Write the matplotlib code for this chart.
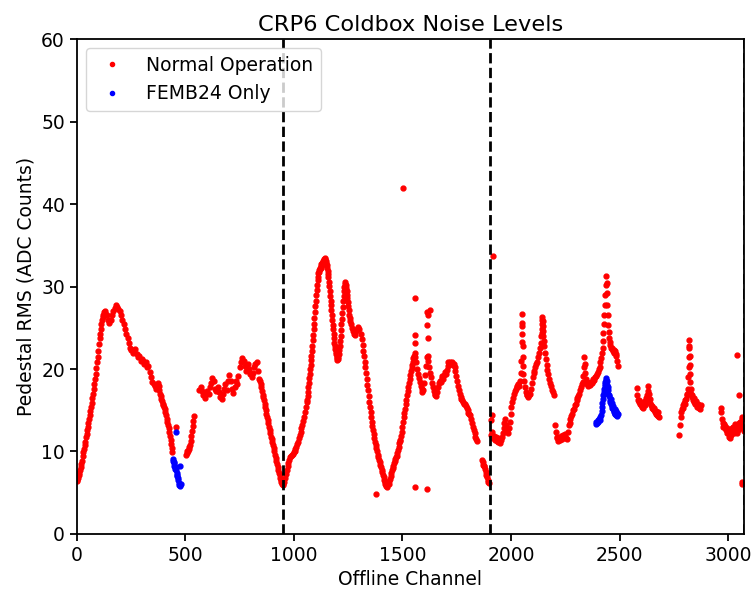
import numpy as np
import matplotlib
matplotlib.use("Agg")
import matplotlib.pyplot as plt

plt.rcParams['font.family'] = ['DejaVu Sans']
plt.rcParams['font.size'] = 13.5

# ---------------- data ----------------
# Normal operation: contiguous runs of channels, (start channel, channel step, RMS values)
seg_start = [0, 138, 381, 504, 565, 844, 955, 1061, 1262, 1320, 1560, 1866,
             1906, 2048, 2060, 2141, 2152, 2202, 2334, 2348, 2422, 2452,
             2579, 2776, 2817, 2830, 2966]
seg_step = [3, 6, 3, 3, 6, 3, 4, 2, 5, 3, 4, 3,
            4, 1, 4, 1, 4, 4, 2, 4, 2, 3,
            3, 3, 1, 3, 3]
seg_values = [
    [6.4, 6.6, 6.8, 7.1, 7.4, 7.7, 8.1, 8.5, 8.9, 9.4, 9.9, 10.3, 10.8, 11.2, 11.7,
     12.1, 12.6, 13.0, 13.5, 13.9, 14.4, 14.9, 15.4, 15.9, 16.5, 17.0, 17.6, 18.2,
     18.8, 19.4, 20.1, 20.8, 21.5, 22.2, 23.0, 23.7, 24.3, 24.9, 25.4, 25.9, 26.3,
     26.6, 26.9, 27.0, 26.8],
    [26.5, 26.0, 25.6, 26.0, 26.6, 27.0, 27.4, 27.7, 27.5, 27.3, 27.0, 26.6, 26.0,
     25.4, 24.9, 24.3, 23.8, 23.2, 22.6, 22.3, 22.0, 22.3, 22.4, 21.8, 21.5, 21.6,
     21.0, 21.2, 21.0, 20.6, 20.8, 20.3, 20.4, 19.6, 19.0, 18.4, 18.2, 18.0, 17.6,
     18.3, 18.0],
    [17.4, 17.0, 16.7, 16.4, 16.1, 15.8, 15.6, 15.4, 15.1, 14.8, 14.4, 14.0, 13.6,
     13.2, 12.8, 12.4, 11.9, 11.4, 10.9, 10.4, 9.9],
    [9.6, 9.8, 10.0, 10.1, 10.3, 10.5, 10.8, 11.3, 11.9, 12.5, 13.1, 13.7, 14.3],
    [17.4, 17.8, 17.3, 16.8, 16.5, 17.0, 17.3, 17.0, 17.8, 18.3, 18.9, 18.5, 17.6,
     17.3, 17.8, 17.2, 16.6, 16.4, 17.0, 17.6, 18.2, 17.5, 18.6, 19.3, 18.5, 17.6,
     17.1, 17.8, 18.5, 18.2, 19.2, 20.2, 20.8, 21.3, 21.0, 20.4, 19.8, 20.6, 20.0,
     19.4, 19.0, 19.5, 20.2, 20.6, 20.8, 19.8, 18.8],
    [18.6, 18.2, 17.8, 17.3, 16.9, 16.6, 16.2, 15.8, 15.4, 15.0, 14.6, 14.2, 13.8,
     13.4, 13.0, 12.6, 12.2, 11.8, 11.5, 11.1, 10.8, 10.4, 10.0, 9.6, 9.2, 8.8, 8.5,
     8.1, 7.7, 7.4, 7.1, 6.8, 6.5, 6.3, 6.1, 5.9, 6.0],
    [6.3, 6.8, 7.3, 7.8, 8.2, 8.6, 9.0, 9.3, 9.5, 9.6, 9.7, 9.9, 10.1, 10.3, 10.6,
     10.9, 11.2, 11.6, 12.0, 12.4, 12.8, 13.2, 13.7, 14.2, 14.8, 15.4, 16.0],
    [16.2, 16.7, 17.2, 17.8, 18.3, 18.9, 19.4, 20.0, 20.5, 21.1, 21.6, 22.2, 22.8,
     23.5, 24.1, 24.8, 25.5, 26.2, 26.9, 27.6, 28.3, 29.0, 29.6, 30.2, 30.8, 31.2,
     31.6, 31.8, 32.0, 32.1, 32.3, 32.2, 32.5, 32.7, 32.6, 32.9, 33.0, 33.1, 33.2,
     33.0, 33.3, 33.4, 33.3, 33.1, 32.9, 32.6, 32.3, 31.9, 31.5, 31.1, 30.6, 30.1,
     29.5, 28.9, 28.3, 27.7, 27.1, 26.5, 25.9, 25.3,
     24.8, 24.2, 23.7, 23.2, 22.8, 22.4, 22.1, 21.8, 21.5, 21.3, 21.1, 21.2, 21.4,
     21.8, 22.3, 22.8, 23.4, 24.0, 24.7, 25.4, 26.1, 26.8, 27.5, 28.2, 28.8, 29.4,
     29.9, 30.3, 30.5, 30.2, 29.8, 29.4, 29.0, 28.6, 28.1, 27.6, 27.1, 26.6, 26.2,
     25.8],
    [25.4, 25.0, 24.6, 24.3, 24.1, 24.6, 24.9, 25.1, 24.8, 24.2, 23.6, 22.9],
    [22.2, 21.6, 20.9, 20.2, 19.5, 18.8, 18.1, 17.4, 16.7, 16.0, 15.4, 14.8, 14.2,
     13.6, 13.1, 12.6, 12.1, 11.6, 11.2, 10.8, 10.4, 10.0, 9.6, 9.3, 9.0, 8.7, 8.4,
     8.1, 7.8, 7.5, 7.2, 6.9, 6.6, 6.3, 6.0, 5.8, 5.7, 5.9, 6.2, 6.0, 6.4, 6.7, 7.0,
     7.4, 7.7, 8.0, 8.3, 8.6, 8.8, 9.1, 9.3, 9.5, 9.8, 10.2, 10.6, 11.0, 11.3, 11.4,
     11.9, 12.4, 13.0, 13.6, 14.2, 14.7, 15.2, 15.7, 16.3, 16.8, 17.3, 17.8, 18.3,
     18.8, 19.3, 19.7, 20.1, 20.5, 20.9, 21.3, 21.6, 21.9],
    [21.5, 20.8, 20.0, 19.4, 18.9, 18.4, 18.0, 17.6, 17.2, 17.4, 18.3, 19.3, 20.4,
     21.4, 21.6, 21.0, 20.2, 19.5, 19.0, 18.3, 17.8, 17.3, 17.0, 16.8, 16.7, 17.2,
     17.8, 18.3, 18.6, 18.4, 18.9, 19.2, 18.8, 19.3, 19.6, 19.4, 19.9, 20.4, 20.8,
     20.7, 20.9, 20.6, 20.8, 20.5, 20.6, 20.2, 19.8, 19.2, 18.6, 18.0, 17.5, 17.0,
     16.6, 16.4, 16.2, 16.0, 15.8, 15.7, 15.5, 15.3, 15.0, 14.7, 14.6, 14.4, 14.0,
     13.5, 13.0, 12.6, 12.2, 11.8, 11.5, 11.3],
    [9.0, 8.7, 8.4, 8.2, 8.3, 7.9, 7.5, 7.2, 6.9, 6.6, 6.3, 6.2],
    [12.0, 13.8, 12.4, 11.6, 11.9, 11.4, 11.8, 11.3, 11.6, 11.2, 11.5, 11.0, 11.4,
     11.8, 12.2, 12.8, 13.5, 14.0, 13.2, 12.6, 12.3, 12.8, 13.6, 14.5, 15.4, 16.0,
     16.5, 17.0, 17.3, 17.6, 17.8, 18.0, 18.2, 18.0, 18.6, 19.5],
    [21.0, 23.3, 25.6, 26.7, 25.2, 24.2, 22.8, 21.5, 20.4, 19.4],
    [18.6, 17.8, 17.2, 16.9, 16.8, 16.6, 16.8, 17.0, 17.6, 18.3, 19.0, 19.5, 19.8,
     20.2, 20.6, 20.9, 21.4, 21.9, 22.5, 23.2, 24.0],
    [24.4, 24.9, 25.4, 25.9, 26.3, 25.8, 25.2, 24.6, 24.0, 23.4],
    [22.8, 22.0, 21.2, 20.5, 19.9, 19.4, 18.8, 18.3, 17.9, 17.5, 17.2, 16.8],
    [13.2, 12.4, 11.8, 11.6, 11.3, 11.6, 11.4, 11.9, 11.5, 12.0, 11.7, 11.8, 12.1,
     11.6, 11.5, 12.4, 13.2, 13.5, 13.9, 14.3, 14.6, 15.0, 15.1, 15.6, 15.8, 16.2,
     16.5, 16.7, 17.0, 17.4, 17.8, 18.2, 18.4],
    [19.2, 20.2, 21.5, 20.6, 19.5, 18.8],
    [18.4, 18.2, 18.0, 18.3, 18.1, 18.4, 18.3, 18.6, 18.8, 18.7, 19.0, 19.2, 19.4,
     19.6, 20.0, 20.3, 20.8, 21.3, 22.0],
    [22.6, 23.4, 24.4, 25.4, 26.6, 27.8, 29.0, 30.2, 31.3, 30.4, 29.2, 27.8, 26.5,
     25.3, 24.5],
    [23.8, 23.3, 22.9, 22.6, 22.4, 22.5, 22.2, 22.3, 22.0, 22.2, 21.8, 21.6, 21.0,
     20.4],
    [17.7, 16.8, 16.2, 16.0, 16.3, 15.8, 15.6, 16.0, 15.4, 15.7, 15.3, 15.8, 16.1,
     15.6, 16.2, 16.5, 16.8, 17.3, 17.9, 17.0, 16.4, 15.9, 15.6, 15.3, 15.5, 15.1,
     15.0, 15.3, 14.8, 14.9, 14.6, 14.4, 14.8, 14.3, 14.2],
    [12.0, 13.2, 14.2, 14.8, 15.2, 15.6, 15.3, 15.9, 16.2, 15.8, 16.4, 16.8, 17.0,
     17.6],
    [19.0, 20.2, 21.4, 22.6, 23.5, 22.8, 21.6, 20.5, 19.4, 18.4, 17.6],
    [17.0, 16.6, 16.8, 16.2, 16.5, 16.0, 15.8, 16.1, 15.7, 15.4, 15.8, 15.6, 15.3,
     15.5, 15.2, 15.6],
    [15.3, 14.8, 14.0, 13.5, 13.0, 13.3, 12.8, 13.1, 12.6, 12.2, 12.9, 12.4, 11.8,
     12.3, 11.6, 12.6, 12.0, 12.8, 12.4, 13.0, 12.2, 12.7, 13.3, 12.5, 12.9, 12.3,
     13.1, 12.6, 13.5, 12.8, 13.6, 13.2, 13.9, 14.2, 13.0, 12.5],
]
# isolated normal-operation channels
extra_ch = [457, 1379, 1504, 1559, 1559, 1559, 1559, 1612, 1615, 1618, 1620, 1626,
            1612, 1916, 1911, 3040, 3052, 3063, 3066]
extra_rms = [13.0, 4.9, 42.0, 28.6, 24.1, 23.1, 5.7, 26.9, 25.3, 26.5, 23.8, 27.2,
             5.5, 33.7, 14.4, 21.7, 16.8, 6.3, 6.0]

# FEMB24-only run
femb_ch = [442, 444, 446, 448, 450, 452, 454, 456, 457, 458, 460, 462, 464, 466,
           468, 470, 472, 474, 476, 478,
           2390, 2393, 2396, 2399, 2402, 2405, 2408, 2411, 2414, 2417, 2419, 2421,
           2423, 2425, 2427, 2429, 2431, 2433, 2435, 2437, 2439, 2441, 2443, 2445,
           2447, 2449, 2451, 2453, 2455, 2457, 2459, 2461, 2463, 2465, 2467, 2469,
           2471, 2473, 2475, 2477, 2479, 2481, 2483, 2485, 2487, 2489, 2491]
femb_rms = [9.1, 8.9, 8.7, 8.6, 8.3, 8.1, 7.9, 7.7, 12.4, 8.1, 7.4, 7.2, 7.0, 6.8,
            6.5, 6.2, 5.9, 5.8, 8.3, 6.0,
            13.3, 13.6, 13.4, 13.8, 13.6, 14.0, 13.8, 14.2, 14.4, 14.9, 15.4, 15.9,
            16.4, 16.8, 17.2, 17.6, 17.9, 18.2, 18.4, 18.7, 18.9, 18.6, 18.1, 17.8,
            17.4, 17.0, 16.7, 16.9, 16.3, 16.0, 16.4, 15.7, 15.5, 15.9, 15.3, 15.1,
            15.5, 14.9, 14.8, 15.2, 14.6, 14.5, 14.9, 14.4, 14.7, 14.3, 14.5]

plane_boundaries = [952, 1904, 3072]
x_ticks = [0, 500, 1000, 1500, 2000, 2500, 3000]
y_ticks = [0, 10, 20, 30, 40, 50, 60]

# ---------------- assemble ----------------
norm_ch = []
norm_rms = []
for s, st, vals in zip(seg_start, seg_step, seg_values):
    norm_ch.extend(s + st * np.arange(len(vals)))
    norm_rms.extend(vals)
norm_ch.extend(extra_ch)
norm_rms.extend(extra_rms)

# ---------------- plot ----------------
fig = plt.figure(figsize=(7.53, 5.92), dpi=100)
ax = fig.add_axes([0.1019, 0.098, 0.8858, 0.836])

ax.plot(norm_ch, norm_rms, '.', color='red', markersize=7, label='Normal Operation')
ax.plot(femb_ch, femb_rms, '.', color='blue', markersize=7, label='FEMB24 Only')
for b in plane_boundaries:
    ax.axvline(b, color='black', linestyle='--', linewidth=2)

ax.set_xlim(0, 3072)
ax.set_ylim(0, 60)
ax.set_xticks(x_ticks)
ax.set_yticks(y_ticks)
ax.set_xlabel('Offline Channel')
ax.set_ylabel('Pedestal RMS (ADC Counts)')
ax.set_title('CRP6 Coldbox Noise Levels', fontsize=16.2)
for sp in ax.spines.values():
    sp.set_linewidth(1.3)
ax.tick_params(width=1.3, length=5)
ax.legend(loc='upper left', fontsize=13.5, markerscale=0.85)

fig.savefig('out.png', dpi=100)
